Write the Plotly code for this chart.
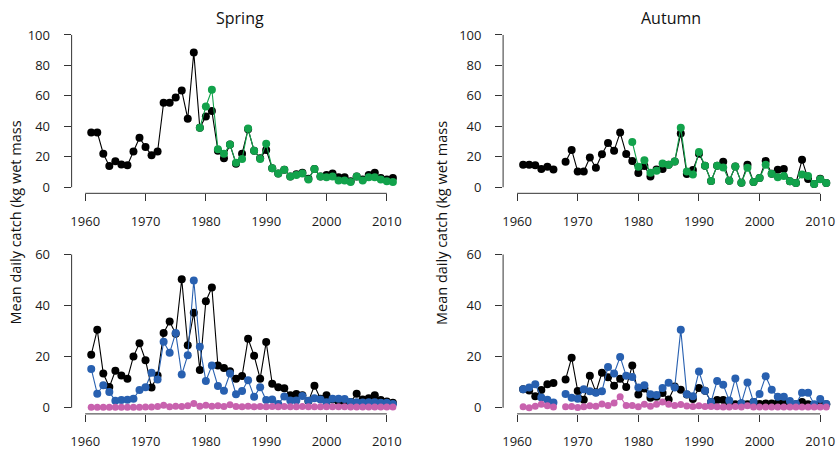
import plotly.graph_objects as go

W, H = 836, 451

years = list(range(1961, 2012))
years_green = list(range(1979, 2012))

# Spring, top panel
spring_top_black = [36, 36, 22, 14, 17, 15, 14.5, 23.5, 32.5, 26.5,
                    21, 23.5, 55.5, 55.5, 59, 63.5, 45, 88.5, 39, 46.5,
                    50, 24, 19, 28, 15.5, 22, 38, 24, 19, 24.5,
                    12.5, 9, 11.5, 7, 8.5, 9.5, 5.5, 12, 7, 8,
                    9, 6.5, 6.5, 4, 7, 5, 8, 9.5, 6, 5, 6]
spring_top_green = [39, 53, 64, 25, 22, 28, 16, 18.5, 38.5, 24,
                    18.5, 28.5, 12.5, 9, 11.5, 7, 8, 9, 5, 12,
                    7, 6.5, 7, 4.5, 4.5, 3.5, 7, 4.5, 6.5, 6.5,
                    5, 4, 3.5]

# Autumn, top panel
autumn_top_black = [14.7, 14.7, 14.5, 12, 13.4, 11.7, None, 16.7, 24.5, 10.4,
                    10.4, 19.5, 12.8, 21.6, 29, 24, 35.9, 21.9, 17.3, 9.3,
                    13.9, 7, 11.7, 11.9, 14.7, 16.9, 35.3, 8.7, 11.3, 22,
                    14.1, 4.1, 14.1, 16.7, 4.3, 13.6, 3, 14.7, 3.5, 6.1,
                    17.3, 8.9, 11.5, 11.9, 3.9, 2.8, 18, 5.4, 2.2, 5.6, 2.8]
autumn_top_green = [29.7, 13.4, 17.7, 9.5, 10.8, 15.6, 14.7, 16.9, 39, 10.4,
                    8.4, 23.2, 14.1, 4.1, 14.1, 13, 4.3, 13.6, 3, 12.8,
                    3.5, 6.1, 14.7, 8.9, 6.5, 7.4, 3.9, 2.8, 8.4, 7.4,
                    2.2, 5.2, 2.8]

# Spring, bottom panel
spring_bot_black = [20.8, 30.5, 13.4, 8.1, 14.5, 12.6, 11.4, 20.1, 25.3, 18.6,
                    7.9, 12.6, 29.3, 33.8, 29, 50.3, 24.5, 37.2, 14.8, 41.7,
                    47.1, 16.5, 15.6, 14.3, 11.4, 12.4, 27, 20.4, 11.4, 25.7,
                    9.4, 8, 7.6, 4.9, 5.4, 4.9, 2.6, 8.6, 3.5, 4.9,
                    3.2, 2.5, 2.5, 2.3, 5.5, 3.2, 3.7, 4.9, 3, 2.5, 2]
spring_bot_blue = [15.2, 5.5, 8.8, 6.2, 2.7, 3, 3.1, 3.5, 7, 8,
                   13.7, 11.1, 25.8, 21.5, 29.3, 13, 20.6, 49.8, 23.9, 10.5,
                   16.5, 8.5, 6.7, 13.4, 5.3, 6.6, 10.8, 4.3, 8, 3,
                   3.2, 1.5, 4.4, 2.8, 2.8, 4.6, 2.7, 3.7, 3.2, 2.2,
                   3.5, 3.5, 3.4, 2.3, 2.2, 2.1, 2.2, 2.2, 2, 2, 1.5]
spring_bot_pink = [0.2, 0.2, 0.2, 0.2, 0.2, 0.2, 0.2, 0.2, 0.2, 0.3,
                   0.3, 0.5, 1.0, 0.4, 0.6, 0.5, 0.8, 1.7, 0.6, 1.0,
                   0.6, 0.8, 0.5, 1.2, 0.5, 0.4, 0.6, 0.4, 0.5, 0.4,
                   0.5, 0.4, 0.5, 0.4, 0.4, 0.5, 0.4, 0.4, 0.4, 0.4,
                   0.4, 0.4, 0.4, 0.3, 0.3, 0.3, 0.3, 0.3, 0.3, 0.3, 0.3]

# Autumn, bottom panel
autumn_bot_black = [7.2, 6.8, 4.5, 7, 9.2, 9.7, None, 11.1, 19.6, 6.6,
                    3.1, 12.5, 6.1, 13.7, 11.9, 8.6, 11.4, 8.1, 16.5, 5.2,
                    7.5, 3.9, 4.3, 5.8, 3.2, 8.3, 7.1, 5.2, 3.4, 7.7,
                    6.7, 2.3, 3, 3, 1.8, 1.4, 1.7, 1.4, 2.3, 1.5,
                    1.7, 1.7, 1.8, 2.3, 1.5, 1.4, 2.3, 1.4, 1, 1.7, 1.4]
autumn_bot_blue = [7.2, 7.9, 9.2, 4, 3.1, 2.1, None, 5.4, 3.9, 3.5,
                   7.2, 6.5, 5.9, 6.5, 16, 13.4, 19.9, 12.5, 12, 7.9,
                   8.8, 5.3, 5, 7.7, 9.8, 7.9, 30.5, 5.3, 4.5, 14.2,
                   6.7, 2.3, 10.5, 9, 2.8, 11.5, 1.8, 9.9, 2.3, 5.4,
                   12.3, 7.1, 4.3, 4.3, 2.6, 1.5, 5.9, 5.9, 1.4, 3.4, 1.5]
autumn_bot_pink = [0.4, 0, 0.6, 1.4, 0.8, 0.3, None, 0.4, 0.5, 0.1,
                   0.4, 0.8, 0.6, 1.5, 0.9, 1.9, 4.3, 0.9, 0.9, 0.4,
                   1.4, 0.6, 1.4, 2.3, 1.4, 0.9, 1.3, 0.7, 0.5, 0.8,
                   0.5, 0.5, 0.4, 0.3, 0.3, 0.5, 0.3, 0.8, 0.3, 0.3,
                   0.3, 0.3, 0.3, 0.3, 0.3, 0.3, 0.3, 0.3, 0.3, 0.3, 0.3]

x_ticks = [1960, 1970, 1980, 1990, 2000, 2010]
y_ticks_top = [0, 20, 40, 60, 80, 100]
y_ticks_bot = [0, 20, 40, 60]
titles = ["Spring", "Autumn"]
ytitle = "Mean daily catch (kg wet mass"

BLACK = "#000000"
GREEN = "#12a24b"
BLUE = "#2860b0"
PINK = "#c862ae"
AX = "#333333"
FONT = "Open Sans"

fig = go.Figure()

def add(xa, ya, xs, ys, color, size=8):
    fig.add_trace(go.Scatter(x=xs, y=ys, xaxis=xa, yaxis=ya, mode="lines+markers",
                             line=dict(color=color, width=1.1),
                             marker=dict(color=color, size=size),
                             connectgaps=False, showlegend=False, hoverinfo="skip"))

add("x", "y", years, spring_top_black, BLACK)
add("x", "y", years_green, spring_top_green, GREEN)
add("x2", "y2", years, autumn_top_black, BLACK)
add("x2", "y2", years_green, autumn_top_green, GREEN)
add("x3", "y3", years, spring_bot_black, BLACK)
add("x3", "y3", years, spring_bot_blue, BLUE)
add("x3", "y3", years, spring_bot_pink, PINK, 7)
add("x4", "y4", years, autumn_bot_black, BLACK)
add("x4", "y4", years, autumn_bot_blue, BLUE)
add("x4", "y4", years, autumn_bot_pink, PINK, 7)

# pixel geometry
def xdom(left_px, px1960, ppy, right_year=2012.5):
    right_px = min(px1960 + (right_year - 1960) * ppy, W)
    return ([left_px / W, right_px / W],
            [1960 - (px1960 - left_px) / ppy, 1960 + (right_px - px1960) / ppy])

def ydom(px0, ppu, lo, hi):
    bottom_px = px0 - lo * ppu
    top_px = px0 - hi * ppu
    return [1 - bottom_px / H, 1 - top_px / H], [lo, hi]

xl_dom, xl_rng = xdom(70.7, 84.3, 6.04)
xr_dom, xr_rng = xdom(502.7, 516.7, 6.07)
yt_dom, yt_rng = ydom(186.3, 1.54, -4, 104)
yb_dom, yb_rng = ydom(409.3, 2.583, -2.4, 62.4)

tickfont = dict(family=FONT, size=13, color="#1a1a1a")
common_x = dict(showgrid=False, zeroline=False, showline=False, ticks="outside",
                ticklen=7, tickwidth=1, tickcolor=AX, tickvals=x_ticks,
                tickfont=tickfont, ticklabelstandoff=9)
common_y = dict(showgrid=False, zeroline=False, showline=False, ticks="outside",
                ticklen=7, tickwidth=1, tickcolor=AX,
                tickfont=tickfont, ticklabelstandoff=11)

fig.update_layout(
    width=W, height=H, margin=dict(l=0, r=0, t=0, b=0),
    paper_bgcolor="white", plot_bgcolor="white", showlegend=False,
    font=dict(family=FONT),
    xaxis=dict(domain=xl_dom, range=xl_rng, anchor="y", **common_x),
    yaxis=dict(domain=yt_dom, range=yt_rng, anchor="x", tickvals=y_ticks_top, **common_y),
    xaxis2=dict(domain=xr_dom, range=xr_rng, anchor="y2", **common_x),
    yaxis2=dict(domain=yt_dom, range=yt_rng, anchor="x2", tickvals=y_ticks_top, **common_y),
    xaxis3=dict(domain=xl_dom, range=xl_rng, anchor="y3", **common_x),
    yaxis3=dict(domain=yb_dom, range=yb_rng, anchor="x3", tickvals=y_ticks_bot, **common_y),
    xaxis4=dict(domain=xr_dom, range=xr_rng, anchor="y4", **common_x),
    yaxis4=dict(domain=yb_dom, range=yb_rng, anchor="x4", tickvals=y_ticks_bot, **common_y),
)

# R-style spines spanning only the tick range
shapes = []
for xa, ya, ymax in [("x", "y", 100), ("x2", "y2", 100), ("x3", "y3", 60), ("x4", "y4", 60)]:
    shapes.append(dict(type="line", xref=xa, yref=ya + " domain", x0=1960, x1=2010, y0=0, y1=0,
                       line=dict(color=AX, width=1)))
    shapes.append(dict(type="line", xref=xa + " domain", yref=ya, x0=0, x1=0, y0=0, y1=ymax,
                       line=dict(color=AX, width=1)))
fig.update_layout(shapes=shapes)

annotations = [
    dict(text=titles[0], x=239 / W, y=1 - 15 / H, xref="paper", yref="paper", showarrow=False,
         xanchor="center", yanchor="middle", font=dict(family=FONT, size=16, color="#111")),
    dict(text=titles[1], x=671 / W, y=1 - 15 / H, xref="paper", yref="paper", showarrow=False,
         xanchor="center", yanchor="middle", font=dict(family=FONT, size=16, color="#111")),
    dict(text=ytitle, x=15 / W, y=1 - 222 / H, xref="paper", yref="paper", showarrow=False,
         xanchor="center", yanchor="middle", textangle=-90,
         font=dict(family=FONT, size=14.5, color="#111")),
    dict(text=ytitle, x=441 / W, y=1 - 222 / H, xref="paper", yref="paper", showarrow=False,
         xanchor="center", yanchor="middle", textangle=-90,
         font=dict(family=FONT, size=14.5, color="#111")),
]
fig.update_layout(annotations=annotations)

fig.write_html("out.html")
